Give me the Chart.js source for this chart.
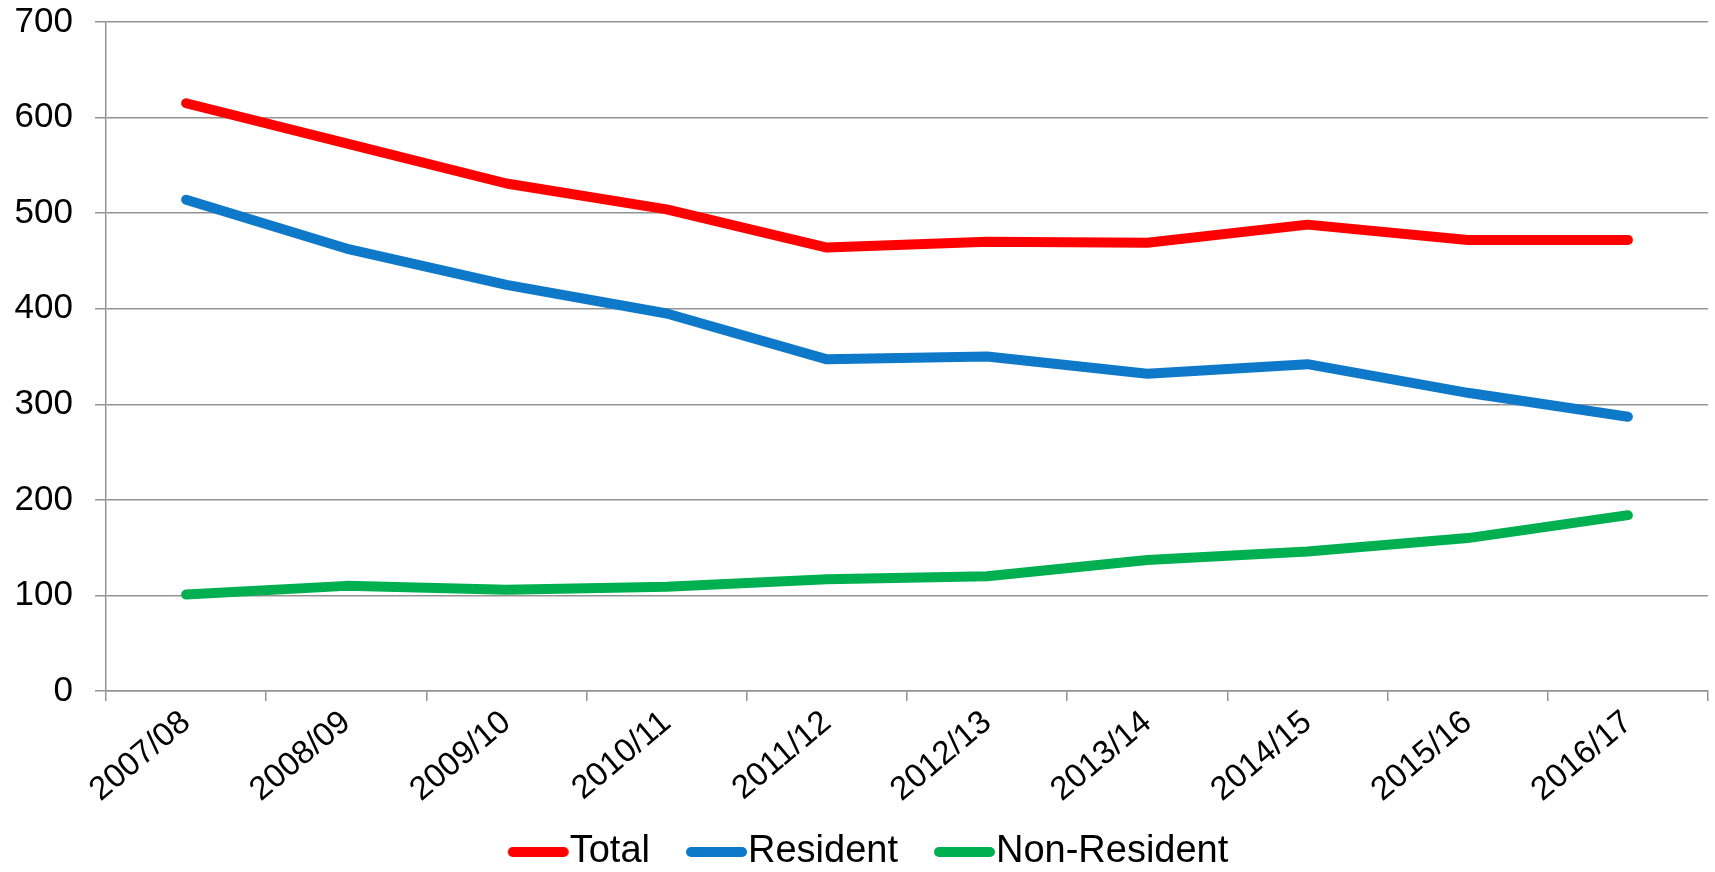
<!DOCTYPE html>
<html>
<head>
  <title>Total, Resident and Non-Resident</title>
  <script src="https://cdn.jsdelivr.net/npm/chart.js"></script>
  <style>
    html, body {
      margin: 0;
      padding: 0;
      background: #fff;
    }
  </style>
</head>
<body>
  <canvas id="lineChart" width="1715" height="872"></canvas>

  <script>
    const years = ['2007/08', '2008/09', '2009/10', '2010/11', '2011/12',
                   '2012/13', '2013/14', '2014/15', '2015/16', '2016/17'];
    const total = [615, 573, 531, 504, 464, 470, 469, 488, 472, 472];
    const resident = [514, 463, 425, 395, 347, 350, 332, 342, 312, 287];
    const nonResident = [101, 110, 106, 109, 117, 120, 137, 146, 160, 184];
    const seriesNames = ['Total', 'Resident', 'Non-Resident'];
    const seriesColors = ['#ff0000', '#0e78c9', '#00b050'];

    const fontFamily = "'Liberation Sans', Arial, sans-serif";
    const gridColor = '#939393';

    // legend marker: a thick rounded line that runs right up to the text
    function legendMark(color) {
      const c = document.createElement('canvas');
      c.width = 81;
      c.height = 12;
      const g = c.getContext('2d');
      g.strokeStyle = color;
      g.lineWidth = 10;
      g.lineCap = 'round';
      g.beginPath();
      g.moveTo(24, 6);
      g.lineTo(75, 6);
      g.stroke();
      return c;
    }
    const marks = seriesColors.map(legendMark);

    function makeSet(i, data) {
      return {
        label: seriesNames[i],
        data: data,
        borderColor: seriesColors[i],
        backgroundColor: seriesColors[i],
        borderWidth: 10,
        borderCapStyle: 'round',
        borderJoinStyle: 'round',
        pointRadius: 0,
        pointHoverRadius: 0,
        tension: 0,
        fill: false
      };
    }

    // tick labels may spill outside their scale box, don't clip them
    const noClip = scale => { scale._computeLabelArea = () => undefined; };

    const ctx = document.getElementById('lineChart').getContext('2d');
    new Chart(ctx, {
      type: 'line',
      data: {
        labels: years,
        datasets: [makeSet(0, total), makeSet(1, resident), makeSet(2, nonResident)]
      },
      options: {
        responsive: false,
        animation: false,
        layout: {
          padding: { top: 22, right: 7, left: 28, bottom: -9 }
        },
        plugins: {
          tooltip: { enabled: false },
          legend: {
            position: 'bottom',
            labels: {
              usePointStyle: true,
              pointStyleWidth: 43,
              padding: 36,
              color: '#000',
              font: { family: fontFamily, size: 38 },
              generateLabels: chart => Chart.defaults.plugins.legend.labels.generateLabels(chart)
                .map((item, i) => Object.assign(item, { pointStyle: marks[i] }))
            }
          }
        },
        scales: {
          x: {
            offset: true,
            grid: {
              offset: true,
              drawOnChartArea: false,
              drawTicks: true,
              tickLength: 10,
              color: gridColor,
              lineWidth: 1.5
            },
            border: { color: gridColor, width: 1.5 },
            ticks: {
              color: '#000',
              font: { family: fontFamily, size: 33 },
              minRotation: 40,
              maxRotation: 40,
              padding: 2
            },
            afterFit: scale => {
              scale.height = 106;
              noClip(scale);
            }
          },
          y: {
            min: 0,
            max: 700,
            grid: {
              color: gridColor,
              lineWidth: 1.5,
              tickLength: 11
            },
            border: { color: gridColor, width: 1.5 },
            ticks: {
              stepSize: 100,
              color: '#000',
              font: { family: fontFamily, size: 35 },
              padding: 22
            },
            afterFit: scale => {
              scale.width = 78;
              scale.paddingTop = 0;
              scale.paddingBottom = 0;
              noClip(scale);
            }
          }
        }
      }
    });
  </script>
</body>
</html>
